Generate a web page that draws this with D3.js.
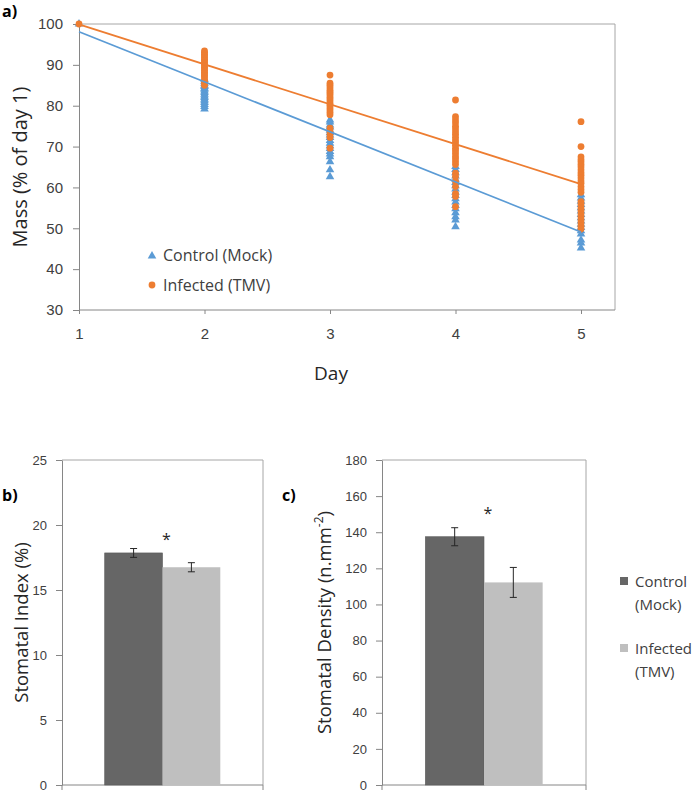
<!DOCTYPE html>
<html><head><meta charset="utf-8">
<script src="https://cdn.jsdelivr.net/npm/d3@7"></script>
<style>body{margin:0;background:#fff}svg{display:block;font-family:"Open Sans",sans-serif}</style>
</head><body><svg id="c" width="697" height="795"></svg>
<script>
// ---------- DATA ----------
const days = [1, 2, 3, 4, 5];
const massTicks = [30, 40, 50, 60, 70, 80, 90, 100];
const controlMass = [
  [100],
  [86.5, 86, 85.5, 85, 84.7, 84.3, 84, 83.6, 83.2, 82.8, 82.4, 82, 81.6, 81.2, 80.8, 80.3, 79.8, 79.2],
  [76.5, 76, 75.3, 74.8, 74, 73.4, 72.8, 72.2, 71.5, 70.8, 70.2, 69.5, 68.8, 68.2, 67.5, 66.3, 64.3, 62.6],
  [65.1, 64.4, 63.6, 62.8, 62, 61.2, 60.4, 59.6, 58.8, 58, 57.2, 56.4, 55.6, 54.8, 53.8, 52.8, 52, 50.4],
  [58.2, 57.4, 56.6, 55.8, 55, 54.2, 53.4, 52.6, 51.8, 51, 50.2, 49.4, 48.6, 47.1, 46.4, 45.2]
];
const infectedMass = [
  [100],
  [93.4, 93, 92.6, 92.2, 91.8, 91.4, 91, 90.6, 90.2, 89.8, 89.4, 89, 88.6, 88.2, 87.8, 87.4, 87, 86.5, 86, 85.5, 85.0],
  [87.5, 85.5, 85, 84.4, 83.8, 83.3, 82.8, 82.2, 81.7, 81.2, 80.6, 80.1, 79.5, 79, 78.4, 77.8, 74.5, 73.8, 73, 72.2, 69.6],
  [81.4, 77.3, 76.5, 75.8, 75, 74.3, 73.6, 73, 72.3, 71.6, 71, 70.3, 69.6, 69, 68.3, 67.6, 67, 66.3, 65.6, 63.5, 62.7, 61.5, 60.2, 58.5, 57.8, 55.3],
  [76.1, 70, 67.5, 66.8, 66.2, 65.6, 65, 64.3, 63.6, 63, 62.3, 61.6, 61, 60.2, 59.5, 58.8, 56.5, 55.8, 55, 54.3, 53.5, 52.8, 52, 51.3, 50.5, 49.8]
];
const trendControl = [98.1, 49.1];   // trend line at day 1 and day 5
const trendInfected = [99.9, 60.8];
const groups = ["Control (Mock)", "Infected (TMV)"];
const indexTicks = [0, 5, 10, 15, 20, 25];
const stomatalIndex = [17.85, 16.75];
const stomatalIndexErr = [0.34, 0.35];
const densityTicks = [0, 20, 40, 60, 80, 100, 120, 140, 160, 180];
const stomatalDensity = [137.5, 112.2];
const stomatalDensityErr = [5.0, 8.3];

// ---------- STYLE ----------
const BLUE = "#5b9bd5", ORANGE = "#ed7d31", DARK = "#666666", LIGHT = "#bfbfbf";
const AXIS = "#868686", FRAME = "#a6a6a6", TXT = "#404040";
const svg = d3.select("#c");

function styleAxis(g, fs) {
  g.selectAll(".domain").attr("stroke", AXIS).attr("stroke-width", 1);
  g.selectAll(".tick line").attr("stroke", AXIS);
  g.selectAll(".tick text").attr("fill", TXT).attr("font-size", fs);
}

// ---------- PANEL A ----------
const xA = d3.scaleLinear().domain([1, 5]).range([79, 581]);
const yA = d3.scaleLinear().domain([30, 100]).range([310, 24]);
const aRight = 615;
const gA = svg.append("g");
gA.append("path").attr("d", `M${xA(1)},${yA(100)}H${aRight}V${yA(30)}`).attr("fill", "none").attr("stroke", FRAME);
gA.append("line").attr("x1", xA(1)).attr("x2", aRight).attr("y1", yA(30)).attr("y2", yA(30)).attr("stroke", AXIS);
gA.append("g").attr("transform", `translate(${xA(1)},0)`)
  .call(d3.axisLeft(yA).tickValues(massTicks).tickSize(6).tickSizeOuter(0).tickPadding(10)).call(styleAxis, 15);
gA.append("g").attr("transform", `translate(0,${yA(30)})`)
  .call(d3.axisBottom(xA).tickValues(days).tickFormat(d3.format("d")).tickSize(4).tickSizeOuter(0).tickPadding(14)).call(styleAxis, 15)
  .call(g => g.select(".domain").remove());

const ctrlPts = controlMass.flatMap((vals, i) => vals.map(v => ({ d: days[i], v })));
const infPts = infectedMass.flatMap((vals, i) => vals.map(v => ({ d: days[i], v })));
const tri = d3.symbol().type(d3.symbolTriangle).size(32);
gA.append("g").selectAll("path").data(ctrlPts).join("path")
  .attr("d", tri).attr("transform", p => `translate(${xA(p.d)},${yA(p.v)})`).attr("fill", BLUE);
gA.append("g").selectAll("circle").data(infPts).join("circle")
  .attr("cx", p => xA(p.d)).attr("cy", p => yA(p.v)).attr("r", 3.4).attr("fill", ORANGE);
[[trendControl, BLUE], [trendInfected, ORANGE]].forEach(([t, c]) => {
  gA.append("line").attr("x1", xA(1)).attr("y1", yA(t[0])).attr("x2", xA(5)).attr("y2", yA(t[1]))
    .attr("stroke", c).attr("stroke-width", 1.8);
});
gA.append("path").attr("d", tri).attr("transform", "translate(152,256)").attr("fill", BLUE);
gA.append("text").attr("x", 163).attr("y", 261).attr("font-size", 16).attr("fill", "#404040").text(groups[0]);
gA.append("circle").attr("cx", 152).attr("cy", 285).attr("r", 3.4).attr("fill", ORANGE);
gA.append("text").attr("x", 163).attr("y", 291).attr("font-size", 16).attr("fill", "#404040").text(groups[1]);
gA.append("text").attr("transform", `translate(27,${(yA(30) + yA(100)) / 2}) rotate(-90)`)
  .attr("text-anchor", "middle").attr("font-size", 20).attr("fill", "#262626").text("Mass (% of day 1)");
gA.append("text").attr("x", 331).attr("y", 380).attr("text-anchor", "middle")
  .attr("font-size", 19).attr("fill", "#262626").text("Day");
svg.append("text").attr("x", 2).attr("y", 17).attr("font-size", 16).attr("font-weight", "bold").text("a)");

// ---------- BAR PANELS ----------
function barPanel(o) {
  const g = svg.append("g");
  const y = d3.scaleLinear().domain([0, o.max]).range([785, 460]);
  const x = d3.scaleBand().domain(["grp"]).range([o.left, o.right]);
  const bw = (o.right - o.left) * 0.2875;
  const cx = x("grp") + x.bandwidth() / 2;
  const bx = d3.scaleBand().domain(groups).range([cx - bw, cx + bw]);
  g.append("path").attr("d", `M${o.left},${y(o.max)}H${o.right}V${y(0)}`).attr("fill", "none").attr("stroke", FRAME);
  g.append("g").attr("transform", `translate(${o.left},0)`)
    .call(d3.axisLeft(y).tickValues(o.ticks).tickSize(6).tickSizeOuter(0).tickPadding(9)).call(styleAxis, 13);
  g.append("line").attr("x1", o.left).attr("x2", o.right).attr("y1", y(0)).attr("y2", y(0)).attr("stroke", AXIS);
  [o.left, o.right].forEach(t => g.append("line").attr("x1", t).attr("x2", t).attr("y1", y(0)).attr("y2", y(0) + 5).attr("stroke", AXIS));
  g.selectAll("rect.bar").data(groups).join("rect").attr("class", "bar")
    .attr("x", d => bx(d)).attr("width", bx.bandwidth())
    .attr("y", (d, i) => y(o.vals[i])).attr("height", (d, i) => y(0) - y(o.vals[i]))
    .attr("fill", (d, i) => i ? LIGHT : DARK).attr("stroke", (d, i) => i ? "none" : "#5a5a5a").attr("stroke-width", 0.6);
  groups.forEach((d, i) => {
    const ex = bx(d) + bx.bandwidth() / 2, hi = y(o.vals[i] + o.errs[i]), lo = y(o.vals[i] - o.errs[i]);
    g.append("path").attr("d", `M${ex},${hi}V${lo}M${ex - 3.5},${hi}H${ex + 3.5}M${ex - 3.5},${lo}H${ex + 3.5}`)
      .attr("stroke", "#262626").attr("stroke-width", 1).attr("fill", "none");
  });
  g.append("text").attr("x", cx + 4).attr("y", o.starY).attr("text-anchor", "middle").attr("font-size", 16).attr("fill", "#262626").text("*");
  const t = g.append("text").attr("transform", `translate(${o.titleX},${(785 + 460) / 2}) rotate(-90)`)
    .attr("text-anchor", "middle").attr("font-size", 18.5).attr("fill", "#262626");
  o.title(t);
  svg.append("text").attr("x", o.labelX).attr("y", 501).attr("font-size", 16).attr("font-weight", "bold").text(o.label);
}

barPanel({ left: 62, right: 263, max: 25, ticks: indexTicks, vals: stomatalIndex, errs: stomatalIndexErr,
  starY: 545, titleX: 28, label: "b)", labelX: 2,
  title: t => t.text("Stomatal Index (%)") });
barPanel({ left: 382, right: 586, max: 180, ticks: densityTicks, vals: stomatalDensity, errs: stomatalDensityErr,
  starY: 519, titleX: 331, label: "c)", labelX: 282,
  title: t => { t.append("tspan").text("Stomatal Density (n.mm"); t.append("tspan").attr("baseline-shift", "super").attr("font-size", 12).text("-2"); t.append("tspan").text(")"); } });

const leg = svg.append("g");
[[DARK, ["Control", "(Mock)"], 587], [LIGHT, ["Infected", "(TMV)"], 654]].forEach(([c, lines, yy]) => {
  leg.append("rect").attr("x", 620).attr("y", yy - 10).attr("width", 8).attr("height", 8).attr("fill", c);
  lines.forEach((l, k) => leg.append("text").attr("x", 635).attr("y", yy + k * 23).attr("font-size", 15).attr("fill", "#404040").text(l));
});
</script></body></html>
